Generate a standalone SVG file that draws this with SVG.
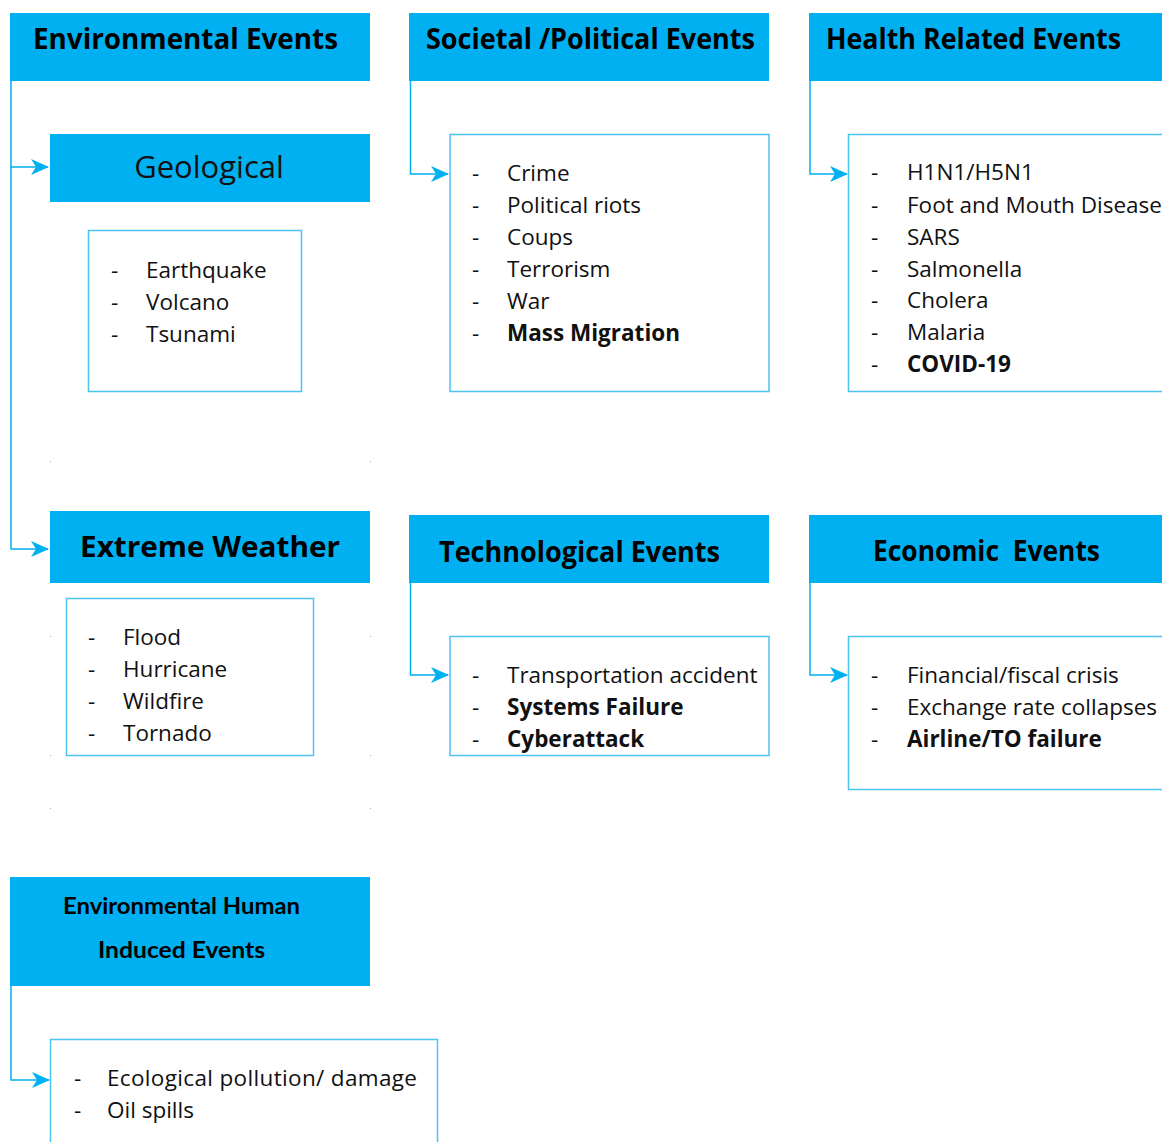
<svg xmlns="http://www.w3.org/2000/svg" width="1162" height="1142" viewBox="0 0 1162 1142">
<style>
.hdr{fill:#00B0F0;}
.box{fill:#fff;stroke:#4DC3F0;stroke-width:1.5;}
.ht{font-family:"Open Sans","Noto Sans",sans-serif;font-weight:bold;font-size:28px;fill:#000;}
.hs{font-family:Lato,"Open Sans",sans-serif;font-weight:bold;font-size:23px;fill:#000;}
.it{font-family:"Open Sans","Noto Sans",sans-serif;font-size:22.5px;fill:#111;}
.b{font-weight:bold;}
.con{fill:none;stroke:#00B0F0;stroke-width:1.5;}
.dot{fill:#7cc6c0;}
</style>
<defs>
<marker id="arr" markerWidth="18" markerHeight="16" refX="17" refY="8" orient="auto" markerUnits="userSpaceOnUse">
<path d="M0,0 L18,8 L0,16 L5,8 z" fill="#00B0F0"/>
</marker>
</defs>
<rect width="1162" height="1142" fill="#fff"/>

<g id="connectors">
<path class="con" d="M11,81 V167 H48" marker-end="url(#arr)"/>
<path class="con" d="M11,167 V549 H48" marker-end="url(#arr)"/>
<path class="con" d="M410.5,81 V174 H448" marker-end="url(#arr)"/>
<path class="con" d="M810,81 V174 H847" marker-end="url(#arr)"/>
<path class="con" d="M410.5,583 V675 H448" marker-end="url(#arr)"/>
<path class="con" d="M810,583 V675 H847" marker-end="url(#arr)"/>
<path class="con" d="M11,986 V1080 H49" marker-end="url(#arr)"/>
</g>

<g id="env">
<rect class="hdr" x="10" y="13" width="360" height="68"/>
<text class="ht" x="33" y="49" textLength="305" lengthAdjust="spacingAndGlyphs">Environmental Events</text>
</g>

<g id="geological">
<rect class="hdr" x="50" y="134" width="320" height="68"/>
<text x="209" y="178" text-anchor="middle" font-family="'Open Sans','Noto Sans',sans-serif" font-size="31" fill="#111">Geological</text>
</g>

<g id="geo-list">
<rect class="box" x="88.5" y="230.5" width="213" height="161"/>
<text class="it" x="111" y="278">-</text><text class="it" x="146" y="278">Earthquake</text>
<text class="it" x="111" y="310">-</text><text class="it" x="146" y="310">Volcano</text>
<text class="it" x="111" y="342">-</text><text class="it" x="146" y="342">Tsunami</text>
</g>

<g id="marks">
<rect class="dot" x="50" y="461" width="1" height="1"/><rect class="dot" x="370" y="461" width="1" height="1"/>
<rect class="dot" x="50" y="636" width="1" height="1"/><rect class="dot" x="370" y="636" width="1" height="1"/>
<rect class="dot" x="50" y="755" width="1" height="1"/><rect class="dot" x="370" y="755" width="1" height="1"/>
<rect class="dot" x="50" y="808" width="1" height="1"/><rect class="dot" x="370" y="808" width="1" height="1"/>
</g>

<g id="weather">
<rect class="hdr" x="50" y="511" width="320" height="72"/>
<text class="ht" x="80" y="557" font-size="31" textLength="260" lengthAdjust="spacingAndGlyphs">Extreme Weather</text>
</g>

<g id="weather-list">
<rect class="box" x="66.5" y="598.5" width="247" height="157"/>
<text class="it" x="88" y="645">-</text><text class="it" x="123" y="645">Flood</text>
<text class="it" x="88" y="677">-</text><text class="it" x="123" y="677">Hurricane</text>
<text class="it" x="88" y="709">-</text><text class="it" x="123" y="709">Wildfire</text>
<text class="it" x="88" y="741">-</text><text class="it" x="123" y="741">Tornado</text>
</g>

<g id="societal">
<rect class="hdr" x="409" y="13" width="360" height="68"/>
<text class="ht" x="426" y="49" textLength="329" lengthAdjust="spacingAndGlyphs">Societal /Political Events</text>
</g>

<g id="societal-list">
<rect class="box" x="450" y="134.5" width="319" height="257"/>
<text class="it" x="472" y="181">-</text><text class="it" x="507" y="181">Crime</text>
<text class="it" x="472" y="213">-</text><text class="it" x="507" y="213">Political riots</text>
<text class="it" x="472" y="245">-</text><text class="it" x="507" y="245">Coups</text>
<text class="it" x="472" y="277">-</text><text class="it" x="507" y="277">Terrorism</text>
<text class="it" x="472" y="309">-</text><text class="it" x="507" y="309">War</text>
<text class="it" x="472" y="341">-</text><text class="it b" x="507" y="341">Mass Migration</text>
</g>

<g id="health">
<rect class="hdr" x="809" y="13" width="353" height="68"/>
<text class="ht" x="826" y="49" textLength="295" lengthAdjust="spacingAndGlyphs">Health Related Events</text>
</g>

<g id="health-list">
<rect class="box" x="848.5" y="134.5" width="330" height="257"/>
<text class="it" x="871" y="180">-</text><text class="it" x="907" y="180">H1N1/H5N1</text>
<text class="it" x="871" y="213">-</text><text class="it" x="907" y="213">Foot and Mouth Disease</text>
<text class="it" x="871" y="245">-</text><text class="it" x="907" y="245">SARS</text>
<text class="it" x="871" y="277">-</text><text class="it" x="907" y="277">Salmonella</text>
<text class="it" x="871" y="308">-</text><text class="it" x="907" y="308">Cholera</text>
<text class="it" x="871" y="340">-</text><text class="it" x="907" y="340">Malaria</text>
<text class="it" x="871" y="372">-</text><text class="it b" x="907" y="372">COVID-19</text>
</g>

<g id="tech">
<rect class="hdr" x="409" y="515" width="360" height="68"/>
<text class="ht" x="439" y="562" textLength="281" lengthAdjust="spacingAndGlyphs">Technological Events</text>
</g>

<g id="tech-list">
<rect class="box" x="450" y="636.5" width="319" height="119"/>
<text class="it" x="472" y="683">-</text><text class="it" x="507" y="683">Transportation accident</text>
<text class="it" x="472" y="715">-</text><text class="it b" x="507" y="715">Systems Failure</text>
<text class="it" x="472" y="747">-</text><text class="it b" x="507" y="747">Cyberattack</text>
</g>

<g id="economic">
<rect class="hdr" x="809" y="515" width="353" height="68"/>
<text class="ht" x="873" y="561" xml:space="preserve" textLength="227" lengthAdjust="spacingAndGlyphs">Economic  Events</text>
</g>

<g id="economic-list">
<rect class="box" x="848.5" y="636.5" width="330" height="153"/>
<text class="it" x="871" y="683">-</text><text class="it" x="907" y="683">Financial/fiscal crisis</text>
<text class="it" x="871" y="715">-</text><text class="it" x="907" y="715">Exchange rate collapses</text>
<text class="it" x="871" y="747">-</text><text class="it b" x="907" y="747">Airline/TO failure</text>
</g>

<g id="human">
<rect class="hdr" x="10" y="877" width="360" height="109"/>
<text class="hs" x="63" y="914" textLength="237" lengthAdjust="spacingAndGlyphs">Environmental Human</text>
<text class="hs" x="98" y="958" textLength="167" lengthAdjust="spacingAndGlyphs">Induced Events</text>
</g>

<g id="human-list">
<rect class="box" x="50.5" y="1039.5" width="387" height="120"/>
<text class="it" x="74" y="1086">-</text><text class="it" x="107" y="1086" textLength="310">Ecological pollution/ damage</text>
<text class="it" x="74" y="1118">-</text><text class="it" x="107" y="1118">Oil spills</text>
</g>
</svg>
